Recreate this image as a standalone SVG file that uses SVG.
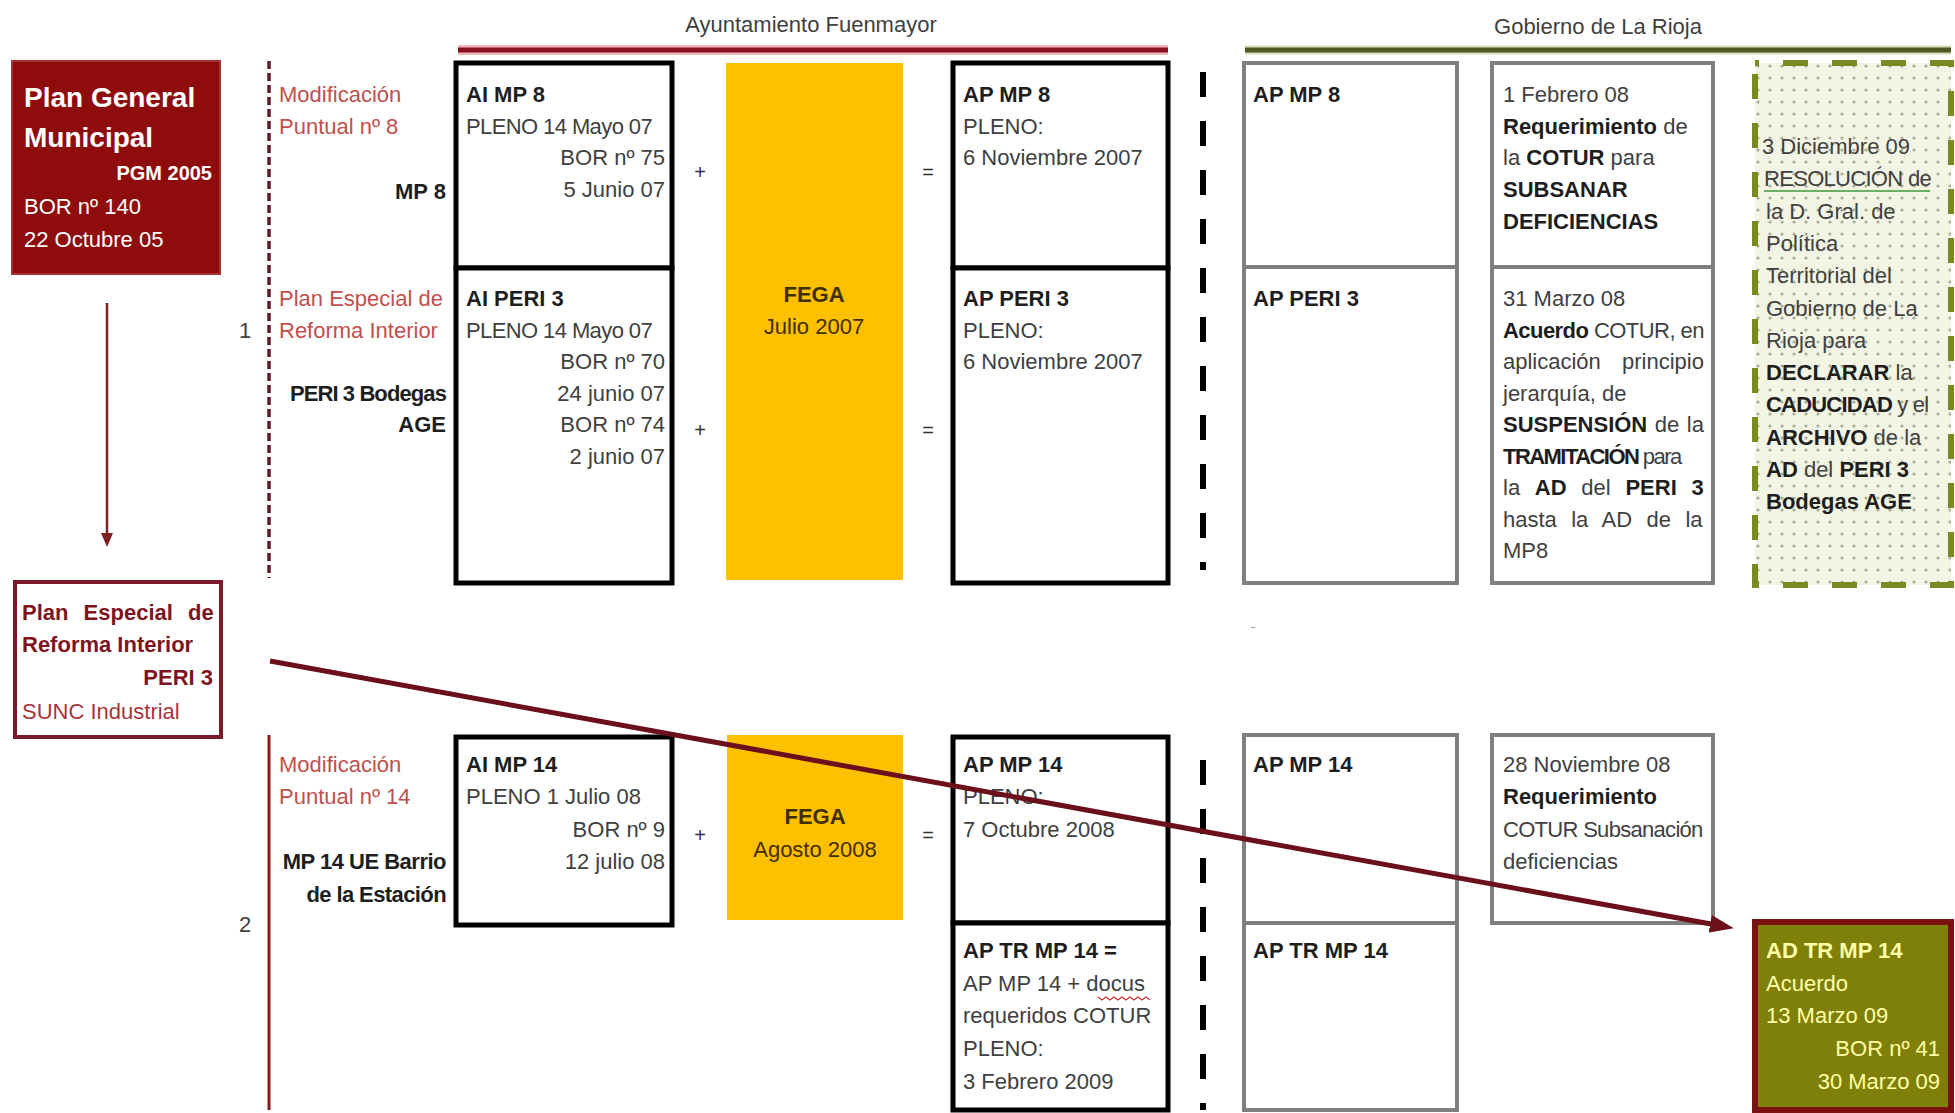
<svg xmlns="http://www.w3.org/2000/svg" width="1955" height="1113" viewBox="0 0 1955 1113">
<style>
text{font-family:"Liberation Sans",Arial,sans-serif;font-size:22px;fill:#404040}
.b{font-weight:bold;fill:#1e1e1e}
.pk{fill:#C0504D}
.w{fill:#ffffff}
.e{text-anchor:end}
.m{text-anchor:middle}
.op{font-size:20px;fill:#303030;text-anchor:middle}
.blk{fill:#ffffff;stroke:#000000;stroke-width:5}
.gry{fill:#ffffff;stroke:#7F7F7F;stroke-width:4}
.fega{fill:#FFC000}
.ft{fill:#3F2F00}
.adt{fill:#FFFFA8}
.dr{fill:#7E1420}
</style>
<defs>
<pattern id="dots" width="12" height="12" patternUnits="userSpaceOnUse">
<rect width="12" height="12" fill="#F2F5E3"/>
<circle cx="6" cy="6" r="1.6" fill="#A8AD98"/>
</pattern>
<marker id="ahBig" viewBox="0 0 24 18" markerWidth="24" markerHeight="18" markerUnits="userSpaceOnUse" refX="12" refY="9" orient="auto">
<path d="M0,0 L24,9 L0,18 z" fill="#6B0F1A"/>
</marker>
<marker id="ahSmall" viewBox="0 0 14 12" markerWidth="14" markerHeight="12" markerUnits="userSpaceOnUse" refX="4" refY="6" orient="auto">
<path d="M0,0 L14,6 L0,12 z" fill="#7F2020"/>
</marker>
</defs>
<rect width="1955" height="1113" fill="#ffffff"/>

<g id="header-ayuntamiento">
<text x="811" y="32" class="m">Ayuntamiento Fuenmayor</text>
<line x1="458" y1="50" x2="1168" y2="50" stroke="#F2B4BC" stroke-width="10"/>
<line x1="458" y1="50" x2="1168" y2="50" stroke="#8B1020" stroke-width="5"/>
</g>
<g id="header-gobierno">
<text x="1598" y="34" class="m">Gobierno de La Rioja</text>
<line x1="1245" y1="50" x2="1951" y2="50" stroke="#D3DEB5" stroke-width="9"/>
<line x1="1245" y1="50" x2="1951" y2="50" stroke="#4F5A22" stroke-width="5"/>
</g>

<g id="separators">
<line x1="269" y1="61" x2="269" y2="578" stroke="#5E1A26" stroke-width="3.5" stroke-dasharray="8 4"/>
<line x1="269" y1="735" x2="269" y2="1110" stroke="#8B1A1A" stroke-width="3"/>
<line x1="1203" y1="72" x2="1203" y2="570" stroke="#000" stroke-width="6" stroke-dasharray="25 24"/>
<line x1="1203" y1="760" x2="1203" y2="1110" stroke="#000" stroke-width="6" stroke-dasharray="25 24"/>
<text x="1253" y="632" style="font-size:14px;fill:#999999" class="m">-</text>
</g>

<g id="node-pgm">
<rect x="12" y="61" width="208" height="213" fill="#8E0C0C" stroke="#A83030" stroke-width="2"/>
<text x="24" y="107" class="b w" style="font-size:28px;fill:#fff">Plan General</text>
<text x="24" y="147" class="b w" style="font-size:28px;fill:#fff">Municipal</text>
<text x="212" y="180" class="b e" style="font-size:20px;fill:#fff">PGM 2005</text>
<text x="24" y="214" class="w">BOR nº 140</text>
<text x="24" y="247" class="w">22 Octubre 05</text>
</g>

<g id="node-peri-left">
<rect x="15" y="582" width="206" height="155" fill="#ffffff" stroke="#7B1A2A" stroke-width="4"/>
<text x="22" y="620" class="b dr" style="word-spacing:9px">Plan Especial de</text>
<text x="22" y="652" class="b dr">Reforma Interior</text>
<text x="213" y="685" class="b dr e">PERI 3</text>
<text x="22" y="719" style="fill:#A8343C">SUNC Industrial</text>
</g>

<g id="label-row1">
<text x="279" y="102" class="pk">Modificación</text>
<text x="279" y="134" class="pk">Puntual nº 8</text>
<text x="446" y="199" class="b e">MP 8</text>
</g>
<g id="label-row2">
<text x="279" y="306" class="pk">Plan Especial de</text>
<text x="279" y="338" class="pk">Reforma Interior</text>
<text x="245" y="338" class="m">1</text>
<text x="446" y="401" class="b e" style="letter-spacing:-0.9px">PERI 3 Bodegas</text>
<text x="446" y="432" class="b e">AGE</text>
</g>
<g id="label-row3">
<text x="279" y="772" class="pk">Modificación</text>
<text x="279" y="804" class="pk">Puntual nº 14</text>
<text x="446" y="869" class="b e" style="letter-spacing:-0.5px">MP 14 UE Barrio</text>
<text x="446" y="902" class="b e" style="letter-spacing:-0.6px">de la Estación</text>
<text x="245" y="932" class="m">2</text>
</g>

<g id="node-ai-mp8">
<rect x="456" y="63" width="216" height="205" class="blk"/>
<text x="466" y="102" class="b">AI MP 8</text>
<text x="466" y="134" style="letter-spacing:-0.6px">PLENO 14 Mayo 07</text>
<text x="665" y="165" class="e">BOR nº 75</text>
<text x="665" y="197" class="e">5 Junio 07</text>
</g>
<g id="node-ai-peri3">
<rect x="456" y="268" width="216" height="315" class="blk"/>
<text x="466" y="306" class="b">AI PERI 3</text>
<text x="466" y="338" style="letter-spacing:-0.6px">PLENO 14 Mayo 07</text>
<text x="665" y="369" class="e">BOR nº 70</text>
<text x="665" y="401" class="e">24 junio 07</text>
<text x="665" y="432" class="e">BOR nº 74</text>
<text x="665" y="464" class="e">2 junio 07</text>
</g>

<g id="ops">
<text x="700" y="179" class="op">+</text>
<text x="928" y="179" class="op">=</text>
<text x="700" y="437" class="op">+</text>
<text x="928" y="437" class="op">=</text>
<text x="700" y="842" class="op">+</text>
<text x="928" y="842" class="op">=</text>
</g>

<g id="node-fega-2007">
<rect x="726" y="63" width="177" height="517" class="fega"/>
<text x="814" y="302" class="b m ft">FEGA</text>
<text x="814" y="334" class="m ft">Julio 2007</text>
</g>

<g id="node-ap-mp8">
<rect x="953" y="63" width="215" height="205" class="blk"/>
<text x="963" y="102" class="b">AP MP 8</text>
<text x="963" y="134">PLENO:</text>
<text x="963" y="165">6 Noviembre 2007</text>
</g>
<g id="node-ap-peri3">
<rect x="953" y="268" width="215" height="315" class="blk"/>
<text x="963" y="306" class="b">AP PERI 3</text>
<text x="963" y="338">PLENO:</text>
<text x="963" y="369">6 Noviembre 2007</text>
</g>

<g id="node-gob-ap-mp8">
<rect x="1244" y="63" width="213" height="204" class="gry"/>
<text x="1253" y="102" class="b">AP MP 8</text>
</g>
<g id="node-gob-ap-peri3">
<rect x="1244" y="267" width="213" height="316" class="gry"/>
<text x="1253" y="306" class="b">AP PERI 3</text>
</g>

<g id="node-cotur-feb08">
<rect x="1492" y="63" width="221" height="204" class="gry"/>
<text x="1503" y="102">1 Febrero 08</text>
<text x="1503" y="134"><tspan class="b">Requerimiento</tspan> de</text>
<text x="1503" y="165">la <tspan class="b">COTUR</tspan> para</text>
<text x="1503" y="197" class="b">SUBSANAR</text>
<text x="1503" y="229" class="b">DEFICIENCIAS</text>
</g>
<g id="node-cotur-mar08">
<rect x="1492" y="267" width="221" height="316" class="gry"/>
<text x="1503" y="306">31 Marzo 08</text>
<text x="1503" y="338" style="letter-spacing:-0.55px"><tspan class="b">Acuerdo</tspan> COTUR, en</text>
<text x="1503" y="369" style="word-spacing:15px">aplicación principio</text>
<text x="1503" y="401">jerarquía, de</text>
<text x="1503" y="432" style="word-spacing:1.4px"><tspan class="b">SUSPENSIÓN</tspan> de la</text>
<text x="1503" y="464" style="letter-spacing:-1.55px"><tspan class="b">TRAMITACIÓN</tspan> para</text>
<text x="1503" y="495" style="word-spacing:8.6px">la <tspan class="b">AD</tspan> del <tspan class="b">PERI</tspan> <tspan class="b">3</tspan></text>
<text x="1503" y="527" style="word-spacing:8.3px">hasta la AD de la</text>
<text x="1503" y="558">MP8</text>
</g>

<g id="node-resolucion">
<rect x="1755" y="63" width="196" height="522" fill="url(#dots)" stroke="#7A8A22" stroke-width="6" stroke-dasharray="25 24" stroke-dashoffset="21"/>
<text x="1762" y="154">3 Diciembre 09</text>
<text x="1764" y="186" style="letter-spacing:-0.7px">RESOLUCIÓN de</text>
<line x1="1764" y1="191" x2="1930" y2="191" stroke="#3C9A3C" stroke-width="1.5"/>
<text x="1766" y="219">la D. Gral. de</text>
<text x="1766" y="251">Política</text>
<text x="1766" y="283">Territorial del</text>
<text x="1766" y="316">Gobierno de La</text>
<text x="1766" y="348">Rioja para</text>
<text x="1766" y="380"><tspan class="b">DECLARAR</tspan> la</text>
<text x="1766" y="412" style="letter-spacing:-0.8px"><tspan class="b">CADUCIDAD</tspan> y el</text>
<text x="1766" y="445"><tspan class="b">ARCHIVO</tspan> de la</text>
<text x="1766" y="477"><tspan class="b">AD</tspan> del <tspan class="b">PERI 3</tspan></text>
<text x="1766" y="509" class="b">Bodegas AGE</text>
</g>

<g id="node-ai-mp14">
<rect x="456" y="737" width="216" height="188" class="blk"/>
<text x="466" y="772" class="b">AI MP 14</text>
<text x="466" y="804">PLENO 1 Julio 08</text>
<text x="665" y="837" class="e">BOR nº 9</text>
<text x="665" y="869" class="e">12 julio 08</text>
</g>
<g id="node-fega-2008">
<rect x="727" y="735" width="176" height="185" class="fega"/>
<text x="815" y="824" class="b m ft">FEGA</text>
<text x="815" y="857" class="m ft">Agosto 2008</text>
</g>
<g id="node-ap-mp14">
<rect x="953" y="737" width="215" height="186" class="blk"/>
<text x="963" y="772" class="b">AP MP 14</text>
<text x="963" y="804">PLENO:</text>
<text x="963" y="837">7 Octubre 2008</text>
</g>
<g id="node-ap-tr-mp14">
<rect x="953" y="923" width="215" height="187" class="blk"/>
<text x="963" y="958" class="b">AP TR MP 14 =</text>
<text x="963" y="991">AP MP 14 + docus</text>
<path d="M1098,997 l4,3 l4,-3 l4,3 l4,-3 l4,3 l4,-3 l4,3 l4,-3 l4,3 l4,-3 l4,3 l4,-3 l4,3" fill="none" stroke="#D03030" stroke-width="1.2"/>
<text x="963" y="1023">requeridos COTUR</text>
<text x="963" y="1056">PLENO:</text>
<text x="963" y="1089">3 Febrero 2009</text>
</g>
<g id="node-gob-ap-mp14">
<rect x="1244" y="735" width="213" height="188" class="gry"/>
<text x="1253" y="772" class="b">AP MP 14</text>
</g>
<g id="node-gob-ap-tr-mp14">
<rect x="1244" y="923" width="213" height="187" class="gry"/>
<text x="1253" y="958" class="b">AP TR MP 14</text>
</g>
<g id="node-cotur-nov08">
<rect x="1492" y="735" width="221" height="188" class="gry"/>
<text x="1503" y="772">28 Noviembre 08</text>
<text x="1503" y="804" class="b">Requerimiento</text>
<text x="1503" y="837" style="letter-spacing:-0.7px">COTUR Subsanación</text>
<text x="1503" y="869">deficiencias</text>
</g>
<g id="node-ad-tr-mp14">
<rect x="1755" y="922" width="196" height="188" fill="#7F800A" stroke="#7A1212" stroke-width="6"/>
<text x="1766" y="958" class="b adt">AD TR MP 14</text>
<text x="1766" y="991" class="adt">Acuerdo</text>
<text x="1766" y="1023" class="adt">13 Marzo 09</text>
<text x="1940" y="1056" class="adt e">BOR nº 41</text>
<text x="1940" y="1089" class="adt e">30 Marzo 09</text>
</g>

<g id="connectors">
<line x1="107" y1="303" x2="107" y2="537" stroke="#7F2020" stroke-width="2.5" marker-end="url(#ahSmall)"/>
<line x1="270" y1="661" x2="1722" y2="926" stroke="#6B0F1A" stroke-width="5" marker-end="url(#ahBig)"/>
</g>
</svg>
